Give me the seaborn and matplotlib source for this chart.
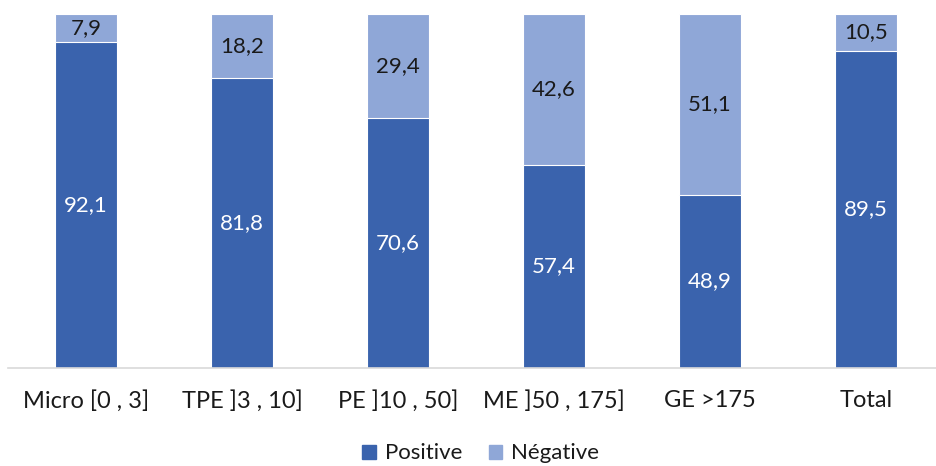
import matplotlib.pyplot as plt
import pandas as pd
import seaborn as sns
from matplotlib.patches import Patch

categories = ["Micro [0 , 3]", "TPE ]3 , 10]", "PE ]10 , 50]", "ME ]50 , 175]", "GE >175", "Total"]
positive = [92.1, 81.8, 70.6, 57.4, 48.9, 89.5]
negative = [7.9, 18.2, 29.4, 42.6, 51.1, 10.5]

dark_blue = "#3A63AD"
light_blue = "#8FA7D7"

df = pd.DataFrame({"cat": categories, "pos": positive, "neg": negative})
df["total"] = df["pos"] + df["neg"]

sns.set_style("white")
plt.rcParams["font.family"] = ["Lato", "DejaVu Sans"]

fig = plt.figure(figsize=(9.37, 4.66), dpi=100)
ax = fig.add_axes([8 / 937, 98 / 466, 929 / 937, 354 / 466])

sns.barplot(data=df, x="cat", y="total", color=light_blue, width=0.4,
            edgecolor="white", linewidth=0.8, saturation=1, ax=ax)
sns.barplot(data=df, x="cat", y="pos", color=dark_blue, width=0.4,
            edgecolor="white", linewidth=0.8, saturation=1, ax=ax)

for i, (p, n) in enumerate(zip(positive, negative)):
  ax.text(i, p / 2, f"{p:.1f}".replace(".", ","), ha="center", va="center",
          color="white", fontsize=16)
  ax.text(i, p + n / 2, f"{n:.1f}".replace(".", ","), ha="center", va="center",
          color="#1a1a1a", fontsize=16)

ax.set_ylim(0, 100)
ax.set_xlim(-0.5, -0.5 + 929 / 156)
ax.set_xlabel("")
ax.set_ylabel("")
ax.set_yticks([])
for side in ["top", "left", "right"]:
  ax.spines[side].set_visible(False)
ax.spines["bottom"].set_color("#d9d9d9")
ax.spines["bottom"].set_linewidth(1.2)
ax.tick_params(axis="x", length=0, pad=16, labelsize=17, labelcolor="#1a1a1a")

handles = [Patch(color=dark_blue, label="Positive"), Patch(color=light_blue, label="Négative")]
fig.legend(handles=handles, loc="center", bbox_to_anchor=(0.513, 0.027), ncol=2,
           frameon=False, fontsize=16, handlelength=0.6, handleheight=0.6,
           handletextpad=0.4, columnspacing=1.2, labelcolor="#1a1a1a")

fig.savefig("out.png", dpi=100)
